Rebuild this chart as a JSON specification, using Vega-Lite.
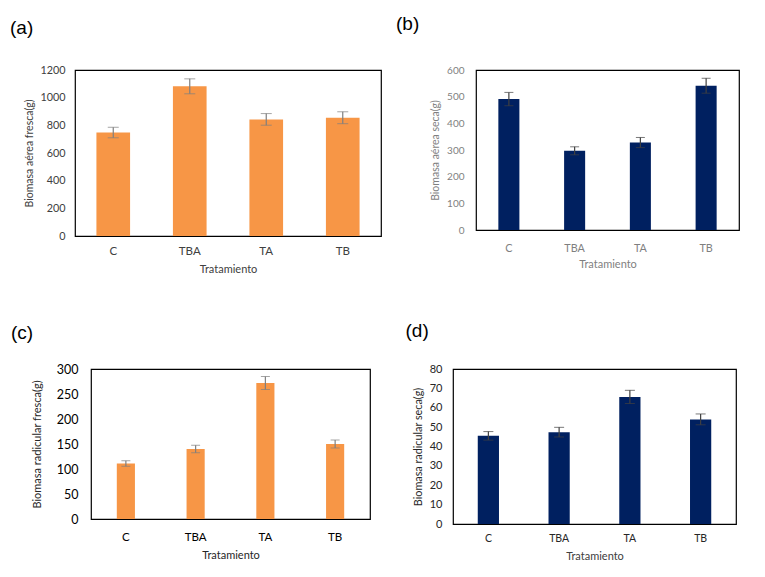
{
  "$schema": "https://vega.github.io/schema/vega-lite/v6.json",
  "padding": {"left": -5, "top": 14, "right": 5, "bottom": 5},
  "background": "white",
  "config": {
    "font": "Lato",
    "view": {"stroke": "#000000", "strokeWidth": 1.2},
    "axis": {"grid": false, "domain": false, "ticks": false, "labelFont": "Lato", "titleFont": "Lato", "titleFontWeight": "normal", "labelOverlap": false},
    "title": {"font": "Liberation Sans", "fontSize": 19, "fontWeight": "normal", "color": "#000000", "anchor": "start"}
  },
  "concat": [
    {
      "hconcat": [
        {"width": 0.01, "height": 0.01, "data": {"values": []}, "mark": "point", "view": {"stroke": null}},
        {
          "title": {"text": "(a)", "offset": 26, "dx": -14},
          "width": 306, "height": 166,
          "data": {"values": [
            {"t": "C", "v": 748, "e": 38},
            {"t": "TBA", "v": 1082, "e": 54},
            {"t": "TA", "v": 843, "e": 42},
            {"t": "TB", "v": 855, "e": 43}
          ]},
          "encoding": {
            "x": {"field": "t", "type": "nominal", "sort": null, "scale": {"paddingInner": 0.56, "paddingOuter": 0.28},
                  "axis": {"title": "Tratamiento", "labelAngle": 0, "labelFontSize": 11.5, "labelColor": "#404040", "labelPadding": 9, "titleFontSize": 11, "titleColor": "#404040", "titlePadding": 7}},
            "y": {"field": "v", "type": "quantitative", "scale": {"domain": [0, 1200]},
               "axis": {"title": "Biomasa aérea fresca(g)", "values": [0, 200, 400, 600, 800, 1000, 1200], "format": "d", "labelFontSize": 10.8, "labelColor": "#404040", "labelPadding": 10, "titleFontSize": 10.5, "titleColor": "#404040", "titleX": -41}}
          },
          "layer": [
            {"mark": {"type": "bar", "color": "#F79646"}},
            {"mark": {"type": "errorbar", "ticks": {"size": 11, "color": "#7F7F7F", "strokeWidth": 1.5}, "rule": {"color": "#7F7F7F", "strokeWidth": 1.2}},
             "encoding": {"yError": {"field": "e"}}}
          ]
        },
        {
          "title": {"text": "(b)", "offset": 31, "dx": -34},
          "width": 263, "height": 160,
          "data": {"values": [
            {"t": "C", "v": 491, "e": 25},
            {"t": "TBA", "v": 297, "e": 15},
            {"t": "TA", "v": 328, "e": 19},
            {"t": "TB", "v": 541, "e": 28}
          ]},
          "encoding": {
            "x": {"field": "t", "type": "nominal", "sort": null, "scale": {"paddingInner": 0.68, "paddingOuter": 0.34},
                  "axis": {"title": "Tratamiento", "labelAngle": 0, "labelFontSize": 10.8, "labelColor": "#7F7F7F", "labelPadding": 12, "titleFontSize": 11, "titleColor": "#7F7F7F", "titlePadding": 6}},
            "y": {"field": "v", "type": "quantitative", "scale": {"domain": [0, 600]},
               "axis": {"title": "Biomasa aérea seca(g)", "values": [0, 100, 200, 300, 400, 500, 600], "format": "d", "labelFontSize": 10, "labelColor": "#7F7F7F", "labelPadding": 12, "titleFontSize": 10.5, "titleColor": "#7F7F7F", "titleX": -36}}
          },
          "layer": [
            {"mark": {"type": "bar", "color": "#002060"}},
            {"mark": {"type": "errorbar", "ticks": {"size": 9, "color": "#404040", "strokeWidth": 1.5}, "rule": {"color": "#404040", "strokeWidth": 1.2}},
             "encoding": {"yError": {"field": "e"}}}
          ]
        }
      ],
      "spacing": 13
    },
    {
      "hconcat": [
        {"width": 0.01, "height": 0.01, "data": {"values": []}, "mark": "point", "view": {"stroke": null}},
        {
          "title": {"text": "(c)", "offset": 20, "dx": -20},
          "width": 279, "height": 150,
          "data": {"values": [
            {"t": "C", "v": 111, "e": 5.5},
            {"t": "TBA", "v": 140, "e": 7.5},
            {"t": "TA", "v": 272, "e": 13},
            {"t": "TB", "v": 150, "e": 8}
          ]},
          "encoding": {
            "x": {"field": "t", "type": "nominal", "sort": null, "scale": {"paddingInner": 0.74, "paddingOuter": 0.37},
                  "axis": {"title": "Tratamiento", "labelAngle": 0, "labelFontSize": 11.5, "labelColor": "#000000", "labelPadding": 12, "titleFontSize": 11, "titleColor": "#262626", "titlePadding": 7}},
            "y": {"field": "v", "type": "quantitative", "scale": {"domain": [0, 300]},
               "axis": {"title": "Biomasa radicular fresca(g)", "values": [0, 50, 100, 150, 200, 250, 300], "format": "d", "labelFontSize": 12.5, "labelColor": "#000000", "labelPadding": 13, "titleFontSize": 11, "titleColor": "#262626", "titleX": -49}}
          },
          "layer": [
            {"mark": {"type": "bar", "color": "#F79646"}},
            {"mark": {"type": "errorbar", "ticks": {"size": 9, "color": "#7F7F7F", "strokeWidth": 1.5}, "rule": {"color": "#7F7F7F", "strokeWidth": 1.2}},
             "encoding": {"yError": {"field": "e"}}}
          ]
        },
        {"width": 5, "height": 0.01, "data": {"values": []}, "mark": "point", "view": {"stroke": null}},
        {
          "title": {"text": "(d)", "offset": 22.5, "dx": -7},
          "width": 283, "height": 155,
          "data": {"values": [
            {"t": "C", "v": 45.5, "e": 2.2},
            {"t": "TBA", "v": 47.4, "e": 2.5},
            {"t": "TA", "v": 65.6, "e": 3.4},
            {"t": "TB", "v": 54, "e": 2.8}
          ]},
          "encoding": {
            "x": {"field": "t", "type": "nominal", "sort": null, "scale": {"paddingInner": 0.7, "paddingOuter": 0.35},
                  "axis": {"title": "Tratamiento", "labelAngle": 0, "labelFontSize": 10.5, "labelColor": "#262626", "labelPadding": 9, "titleFontSize": 11, "titleColor": "#404040", "titlePadding": 7}},
            "y": {"field": "v", "type": "quantitative", "scale": {"domain": [0, 80]},
               "axis": {"title": "Biomasa radicular seca(g)", "values": [0, 10, 20, 30, 40, 50, 60, 70, 80], "format": "d", "labelFontSize": 11, "labelColor": "#262626", "labelPadding": 11, "titleFontSize": 10.8, "titleColor": "#262626", "titleX": -29.5}}
          },
          "layer": [
            {"mark": {"type": "bar", "color": "#002060"}},
            {"mark": {"type": "errorbar", "ticks": {"size": 10, "color": "#404040", "strokeWidth": 1.5}, "rule": {"color": "#404040", "strokeWidth": 1.2}},
             "encoding": {"yError": {"field": "e"}}}
          ]
        }
      ],
      "spacing": 14
    }
  ],
  "columns": 1,
  "align": "none",
  "spacing": 44
}
